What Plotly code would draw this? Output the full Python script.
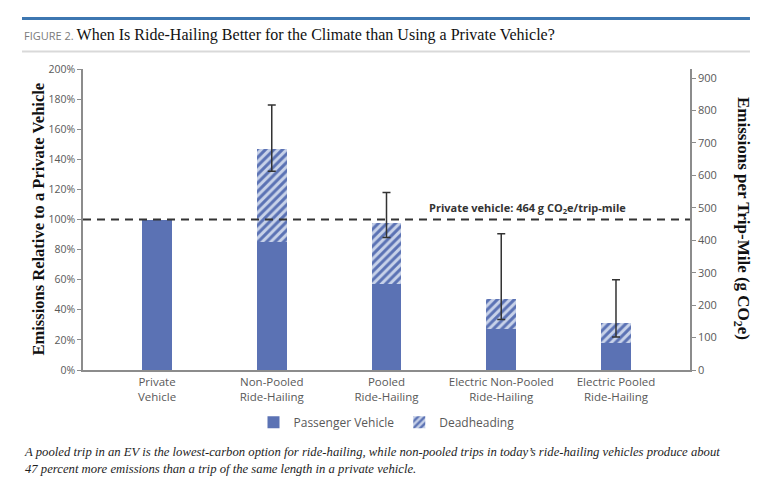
import plotly.graph_objects as go

categories = ["Private<br>Vehicle", "Non-Pooled<br>Ride-Hailing", "Pooled<br>Ride-Hailing",
              "Electric Non-Pooled<br>Ride-Hailing", "Electric Pooled<br>Ride-Hailing"]
passenger = [100, 85, 57, 27, 18]
deadheading = [0, 62, 41, 20, 13]
err_plus = [None, 29, 20, 43.5, 29]
err_minus = [None, 15, 10, 13.5, 9]
private_g = 464
left_ticks = list(range(0, 201, 20))
left_tick_labels = [f"{v}%" for v in left_ticks]
right_ticks = list(range(0, 901, 100))

totals = [p + d for p, d in zip(passenger, deadheading)]
err_y_vals = [t if e is not None else None for t, e in zip(totals, err_plus)]

BLUE = "#5b72b4"
LIGHT = "#c8d2e9"
GRAY = "#595959"
SANS = "Open Sans, Noto Sans, sans-serif"
SERIF = "Liberation Serif, Times New Roman, serif"

fig = go.Figure()
fig.add_trace(go.Bar(x=categories, y=passenger, name="Passenger Vehicle",
                     marker=dict(color=BLUE, line=dict(width=0)), width=0.26))
fig.add_trace(go.Bar(x=categories, y=deadheading, name="Deadheading",
                     marker=dict(color=LIGHT, line=dict(width=0),
                                 pattern=dict(shape="/", fgcolor=BLUE, bgcolor=LIGHT,
                                              size=6, solidity=0.5, fillmode="replace")),
                     width=0.26))
fig.add_trace(go.Scatter(x=categories, y=err_y_vals, mode="markers",
                         marker=dict(size=0.1, color="rgba(0,0,0,0)"), showlegend=False,
                         hoverinfo="skip",
                         error_y=dict(type="data", symmetric=False,
                                      array=[e if e is not None else 0 for e in err_plus],
                                      arrayminus=[e if e is not None else 0 for e in err_minus],
                                      color="#333333", thickness=1.5, width=4)))
# invisible trace for secondary axis
fig.add_trace(go.Scatter(x=[categories[0]], y=[None], yaxis="y2", showlegend=False,
                         hoverinfo="skip"))

fig.update_layout(
    width=768, height=479,
    margin=dict(l=83, r=78, t=69, b=108.5),
    paper_bgcolor="white", plot_bgcolor="white",
    barmode="stack",
    showlegend=True,
    legend=dict(orientation="h", x=0.5, xanchor="center", y=-0.174, yanchor="middle",
                font=dict(family=SANS, size=12, color=GRAY), traceorder="normal",
                itemwidth=30),
    xaxis=dict(range=[-0.645, 4.645], showline=True, linecolor="#8c8c8c", linewidth=1.5,
               ticks="", tickfont=dict(family=SANS, size=11.5, color=GRAY),
               showgrid=False, zeroline=False, fixedrange=True),
    yaxis=dict(range=[0, 200], tickmode="array", tickvals=left_ticks, ticktext=left_tick_labels,
               showline=True,
               linecolor="#8c8c8c", linewidth=1.5, ticks="outside", ticklen=4,
               tickcolor="#8c8c8c", tickfont=dict(family=SANS, size=10.5, color=GRAY),
               showgrid=False, zeroline=False),
    yaxis2=dict(range=[0, 2 * private_g], tickvals=right_ticks, overlaying="y", side="right",
                showline=True, linecolor="#8c8c8c", linewidth=1.5, ticks="outside",
                ticklen=4, tickcolor="#8c8c8c",
                tickfont=dict(family=SANS, size=11, color=GRAY),
                showgrid=False, zeroline=False),
)

# dashed private vehicle line
fig.add_shape(type="line", xref="paper", yref="y", x0=0, x1=1, y0=100, y1=100,
              line=dict(color="#333333", width=1.8, dash="8px,6px"))
fig.add_annotation(xref="paper", yref="y", x=0.733, y=100, xanchor="center",
                   yanchor="bottom", yshift=2,
                   text=f"<b>Private vehicle: {private_g} g CO<sub>2</sub>e/trip-mile</b>",
                   showarrow=False, font=dict(family=SANS, size=11, color="#333333"))

# header lines
fig.add_shape(type="line", xref="paper", yref="paper", x0=-0.1005, x1=1.0988,
              y0=1.1678, y1=1.1678, line=dict(color="#3d77b1", width=3))
fig.add_shape(type="line", xref="paper", yref="paper", x0=-0.1005, x1=1.0988,
              y0=1.0581, y1=1.0581, line=dict(color="#d9d9d9", width=2))

# title
fig.add_annotation(xref="paper", yref="paper", x=-0.1005, y=1.1115, xanchor="left",
                   yanchor="middle", showarrow=False,
                   text=("<span style='font-family:Open Sans, sans-serif;font-size:11px;color:#7a7a7a'>"
                         "FIGURE 2. </span>"
                         "<span style='font-family:Liberation Serif, serif;font-size:16px;color:#111111'>"
                         "When Is Ride-Hailing Better for the Climate than Using a Private Vehicle?</span>"))

# axis titles
fig.add_annotation(xref="paper", yref="paper", x=(38 - 83) / 607, y=0.5, textangle=-90,
                   showarrow=False, xanchor="center", yanchor="middle",
                   text="<b>Emissions Relative to a Private Vehicle</b>",
                   font=dict(family=SERIF, size=16.5, color="#111111"))
fig.add_annotation(xref="paper", yref="paper", x=(742 - 83) / 607, y=0.505, textangle=90,
                   showarrow=False, xanchor="center", yanchor="middle",
                   text="<b>Emissions per Trip-Mile (g CO<sub>2</sub>e)</b>",
                   font=dict(family=SERIF, size=17, color="#111111"))

# caption
fig.add_annotation(xref="paper", yref="paper", x=-0.1005, y=(370.5 - 461) / 301,
                   xanchor="left", yanchor="middle", align="left", showarrow=False,
                   text=("<i>A pooled trip in an EV is the lowest-carbon option for ride-hailing, while "
                         "non-pooled trips in today’s ride-hailing vehicles produce about<br>"
                         "47 percent more emissions than a trip of the same length in a private vehicle.</i>"),
                   font=dict(family=SERIF, size=12.7, color="#1e1e1e"))

fig.write_html("out.html", config={"displayModeBar": False},
               post_script="document.body.style.margin='0';document.body.style.overflow='hidden';")
